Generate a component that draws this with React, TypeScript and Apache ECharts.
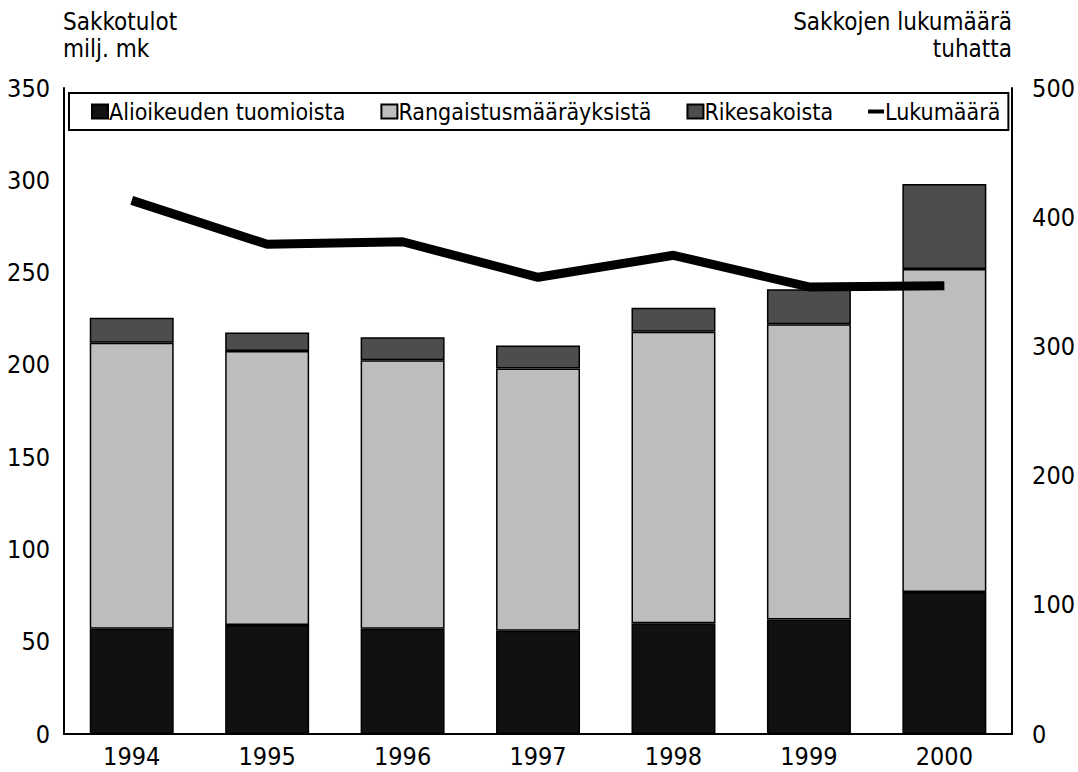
import React, { useEffect, useRef } from "react";
import * as echarts from "echarts";

const years = ["1994", "1995", "1996", "1997", "1998", "1999", "2000"];
const alioikeuden = [57, 59, 57, 56, 60, 62, 77];
const rangaistus = [155, 148.5, 145.5, 142, 158, 160, 175];
const rikesakoista = [13.5, 10, 12.5, 12.5, 13, 19, 46];
const lukumaara = [413, 379, 381, 353.5, 370.5, 346, 347];

const FONT = "'DejaVu Sans Condensed', 'Liberation Sans Narrow', sans-serif";

export default function App() {
  const ref = useRef<HTMLDivElement>(null);
  useEffect(() => {
    if (!ref.current) return;
    const chart = echarts.init(ref.current, null, { renderer: "svg" });
    const barCommon = {
      type: "bar",
      stack: "s",
      barWidth: "62%",
      yAxisIndex: 0,
    };
    chart.setOption({
      animation: false,
      backgroundColor: "#fff",
      textStyle: { fontFamily: FONT, color: "#000" },
      grid: { left: 64, right: 65, top: 88, bottom: 38 },
      legend: {
        top: 93,
        left: 69,
        padding: [7, 8, 7, 22],
        borderColor: "#000",
        borderWidth: 2,
        itemGap: 35,
        itemWidth: 16,
        itemHeight: 14,
        textStyle: { fontFamily: FONT, fontSize: 23, color: "#000", padding: [0, 0, 0, -4] },
        data: [
          { name: "Alioikeuden tuomioista", icon: "rect" },
          { name: "Rangaistusmääräyksistä", icon: "rect" },
          { name: "Rikesakoista", icon: "rect" },
          { name: "Lukumäärä", icon: "path://M0,5 L16,5 L16,9 L0,9 Z" },
        ],
      },
      xAxis: {
        type: "category",
        data: years,
        axisLine: { show: true, lineStyle: { color: "#000", width: 2 } },
        axisTick: { show: false },
        axisLabel: { fontFamily: FONT, fontSize: 25, color: "#000", margin: 10 },
      },
      yAxis: [
        {
          type: "value",
          min: 0,
          max: 350,
          interval: 50,
          position: "left",
          axisLine: { show: true, lineStyle: { color: "#000", width: 2 } },
          axisTick: { show: false },
          splitLine: { show: false },
          axisLabel: { fontFamily: FONT, fontSize: 25, color: "#000", margin: 14 },
        },
        {
          type: "value",
          min: 0,
          max: 500,
          interval: 100,
          position: "right",
          axisLine: { show: true, lineStyle: { color: "#000", width: 2 } },
          axisTick: { show: false },
          splitLine: { show: false },
          axisLabel: { fontFamily: FONT, fontSize: 25, color: "#000", margin: 20 },
        },
      ],
      series: [
        {
          ...barCommon,
          name: "Alioikeuden tuomioista",
          data: alioikeuden,
          itemStyle: { color: "#111111", borderColor: "#000", borderWidth: 1.5 },
        },
        {
          ...barCommon,
          name: "Rangaistusmääräyksistä",
          data: rangaistus,
          itemStyle: { color: "#bdbdbd", borderColor: "#000", borderWidth: 1.5 },
        },
        {
          ...barCommon,
          name: "Rikesakoista",
          data: rikesakoista,
          itemStyle: { color: "#4d4d4d", borderColor: "#000", borderWidth: 1.5 },
        },
        {
          type: "line",
          name: "Lukumäärä",
          yAxisIndex: 1,
          data: lukumaara,
          symbol: "none",
          lineStyle: { color: "#000", width: 9 },
          itemStyle: { color: "#000" },
          z: 5,
        },
      ],
      graphic: [
        { type: "text", left: 63, top: 10, style: { text: "Sakkotulot", font: `24px ${FONT}`, fill: "#000" } },
        { type: "text", left: 63, top: 37, style: { text: "milj. mk", font: `24px ${FONT}`, fill: "#000" } },
        { type: "text", right: 66, top: 10, style: { text: "Sakkojen lukumäärä", font: `24px ${FONT}`, fill: "#000", align: "right" } },
        { type: "text", right: 66, top: 37, style: { text: "tuhatta", font: `24px ${FONT}`, fill: "#000", align: "right" } },
      ],
    });
    return () => chart.dispose();
  }, []);
  return <div ref={ref} style={{ width: 1078, height: 772, position: "absolute", left: 0, top: 0 }} />;
}
